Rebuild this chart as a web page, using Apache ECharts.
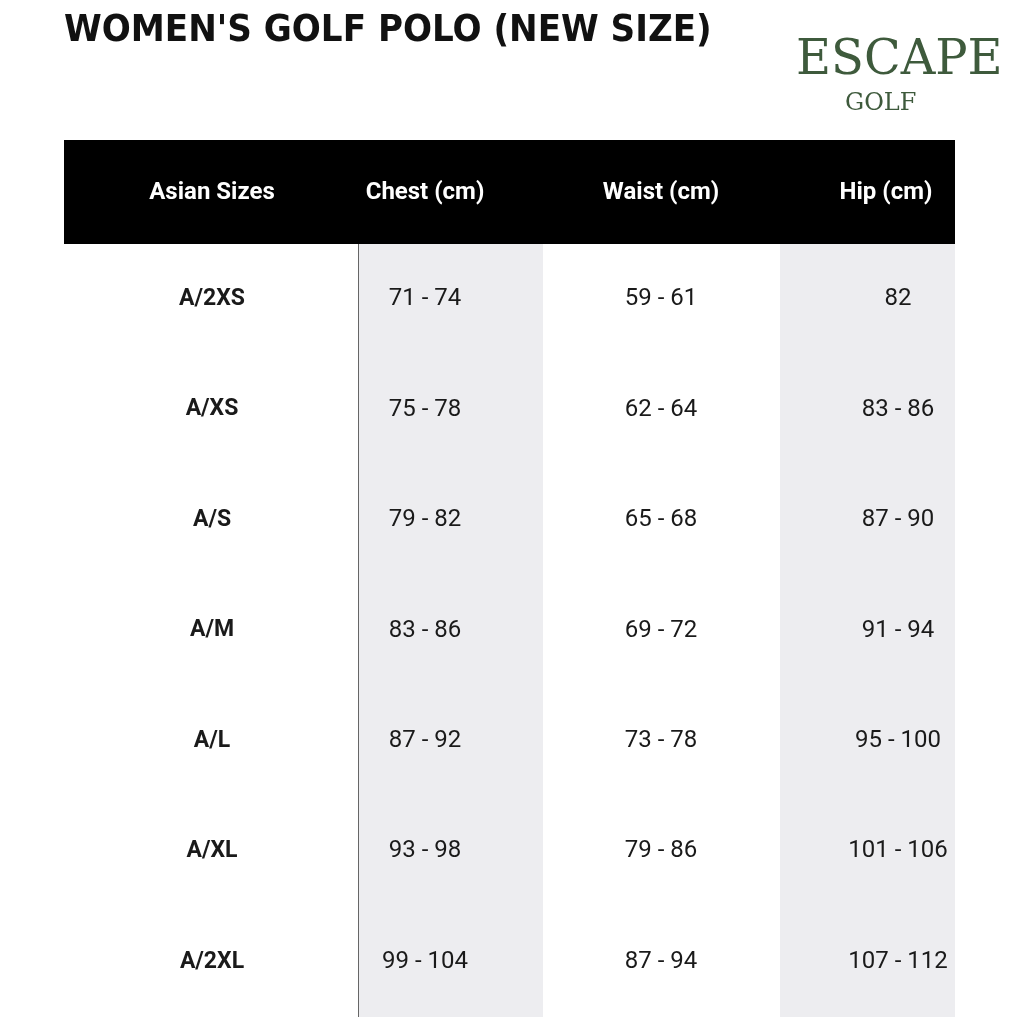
<!DOCTYPE html>
<html><head><meta charset="utf-8">
<script src="https://cdn.jsdelivr.net/npm/echarts@6/dist/echarts.min.js"></script>
<style>html,body{margin:0;padding:0;background:#fff}#c{width:1024px;height:1024px}</style>
</head><body><div id="c"></div>
<script>
const headers = ['Asian Sizes','Chest (cm)','Waist (cm)','Hip (cm)'];
const sizes = ['A/2XS','A/XS','A/S','A/M','A/L','A/XL','A/2XL'];
const chest = ['71 - 74','75 - 78','79 - 82','83 - 86','87 - 92','93 - 98','99 - 104'];
const waist = ['59 - 61','62 - 64','65 - 68','69 - 72','73 - 78','79 - 86','87 - 94'];
const hip = ['82','83 - 86','87 - 90','91 - 94','95 - 100','101 - 106','107 - 112'];
// layout: column edges (px within table) and text centers
const colEdges = [0, 295, 479, 716, 891];
const colCenters = [148, 361, 597, 834];
const headerCenters = [148, 361, 597, 822];
const shaded = [1, 3];

const columns = [sizes, chest, waist, hip];
const cells = [];
columns.forEach((col, ci) => col.forEach((v, ri) => cells.push([colCenters[ci], sizes[ri], v, ci])));

const chart = echarts.init(document.getElementById('c'));
chart.setOption({
  animation: false,
  grid: {left: 64, right: 69, top: 244, bottom: 7},
  xAxis: {type: 'value', min: 0, max: 891, show: false},
  yAxis: {type: 'category', data: sizes, inverse: true, show: false},
  graphic: [
    {type:'text', left: 64, top: 12, style:{text:"WOMEN'S GOLF POLO (NEW SIZE)", font:'bold 38px "DejaVu Sans Condensed"', fill:'#111', letterSpacing: 3}},
    {type:'text', left: 796, top: 38, style:{text:'ESCAPE', font:'48px "DejaVu Serif"', fill:'#3e5a3c', letterSpacing: 0}},
    {type:'text', left: 845, top: 92, style:{text:'GOLF', font:'24px "DejaVu Serif"', fill:'#3e5a3c', letterSpacing: 6}},
    {type:'rect', shape:{x:64, y:140, width:891, height:104}, style:{fill:'#000'}},
    ...headers.map((h, i) => ({type:'text', x: 64 + headerCenters[i], y: 193,
      style:{text:h, font:'bold 24px Roboto', fill:'#fff', align:'center', verticalAlign:'middle'}})),
    {type:'line', shape:{x1:359, y1:244, x2:359, y2:1017}, style:{stroke:'#333', lineWidth:1.5}}
  ],
  series: [
    {type:'custom', silent:true, z:1,
     data: shaded.map(ci => [colEdges[ci], colEdges[ci+1]]),
     renderItem(params, api) {
       const a = api.coord([api.value(0), 0]);
       const b = api.coord([api.value(1), 0]);
       const r = params.coordSys;
       return {type:'rect', shape:{x:a[0], y:r.y, width:b[0]-a[0], height:r.height}, style:{fill:'#ededf0'}};
     }},
    {type:'custom', silent:true, z:2,
     data: cells,
     encode: {x: 0, y: 1},
     renderItem(params, api) {
       const p = api.coord([api.value(0), api.value(1)]);
       const ci = api.value(3);
       return {type:'text', x:p[0], y:p[1],
         style:{text: cells[params.dataIndex][2], align:'center', verticalAlign:'middle',
           font: ci === 0 ? 'bold 23px Roboto' : '24px Roboto', fill:'#1a1a1a', letterSpacing: ci===0?0:1}};
     }}
  ]
});
</script></body></html>
